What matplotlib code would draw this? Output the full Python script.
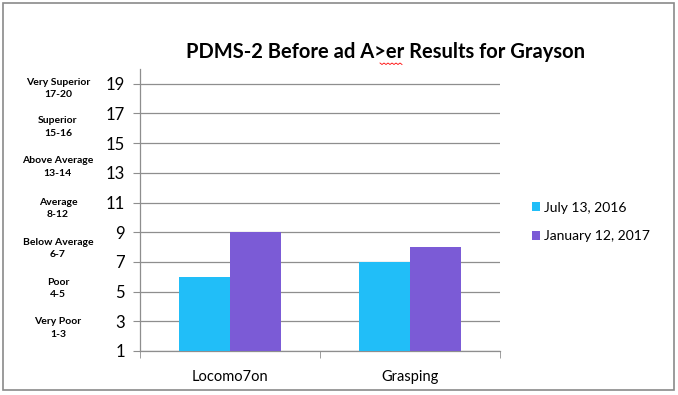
import matplotlib.pyplot as plt
import numpy as np
from matplotlib.patches import Rectangle

# ---- data ----
categories = ["Locomo7on", "Grasping"]
series_names = ["July 13, 2016", "January 12, 2017"]
july_2016 = [6, 7]
jan_2017 = [9, 8]
y_ticks = [1, 3, 5, 7, 9, 11, 13, 15, 17, 19]
rating_labels = ["Very Superior\n17-20", "Superior\n15-16", "Above Average\n13-14",
                 "Average\n8-12", "Below Average\n6-7", "Poor\n4-5", "Very Poor\n1-3"]
rating_levels = [18.7, 16.1, 13.4, 10.6, 7.9, 5.2, 2.55]

CYAN = "#21BEF8"
PURPLE = "#7B5BD6"
GRID = "#8E8E8E"

plt.rcParams['font.family'] = ['Lato', 'DejaVu Sans']

fig = plt.figure(figsize=(6.78, 3.95), dpi=100)
ax = fig.add_axes([0.2065, 0.1114, 0.531, 0.714])

x = np.arange(len(categories))
w = 0.284
ax.bar(x - w / 2, july_2016, w, bottom=0, color=CYAN, label=series_names[0], zorder=3)
ax.bar(x + w / 2, jan_2017, w, bottom=0, color=PURPLE, label=series_names[1], zorder=3)

ax.set_ylim(1, 20)
ax.set_xlim(-0.5, len(categories) - 0.5)
ax.set_yticks(y_ticks)
ax.tick_params(axis='y', labelsize=12, length=5, color=GRID, pad=6)
ax.yaxis.grid(True, color=GRID, lw=0.9, zorder=0)

ax.set_xticks(x)
ax.set_xticklabels(categories, fontsize=10.5)
ax.tick_params(axis='x', length=0, pad=14)
ax.set_xticks(np.arange(-0.5, len(categories)), minor=True)
ax.tick_params(axis='x', which='minor', length=5, color=GRID)

for s in ['top', 'right']:
    ax.spines[s].set_visible(False)
for s in ['left', 'bottom']:
    ax.spines[s].set_color(GRID)
    ax.spines[s].set_linewidth(0.9)

# rating bands on the left
tr = ax.get_yaxis_transform()
for lab, lev in zip(rating_labels, rating_levels):
    ax.text(-0.228, lev, lab, transform=tr, ha='center', va='center',
            fontsize=7.5, fontweight='bold', linespacing=1.5)

fig.text(0.568, 0.868, "PDMS-2 Before ad A>er Results for Grayson",
         ha='center', va='center', fontsize=14.5, fontweight='bold')

# spell-check squiggle under "A>er"
zx = np.linspace(380, 402, 12) / 678
zy = 1 - (63 + np.tile([0, 1.5], 6)) / 395
fig.add_artist(plt.Line2D(zx, zy, color='red', lw=0.6))

leg = fig.legend(loc='center left', bbox_to_anchor=(0.766, 0.438), frameon=False,
                 fontsize=10, handlelength=0.6, handleheight=0.6, handletextpad=0.3,
                 labelspacing=1.2)

fig.add_artist(Rectangle((3 / 678, 1 - 390 / 395), 671 / 678, 387 / 395,
                         transform=fig.transFigure, fill=False, edgecolor='#8A8A8A', lw=1.2))

fig.savefig("out.png", dpi=100)
